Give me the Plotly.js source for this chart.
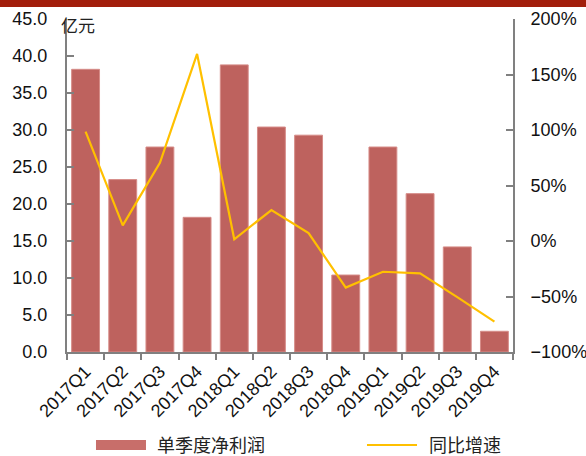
<!DOCTYPE html>
<html>
<head>
<meta charset="utf-8">
<script src="https://cdn.plot.ly/plotly-3.0.1.min.js"></script>
<style>html,body{margin:0;padding:0;background:#fff;}#chart{width:586px;height:456px;}</style>
</head>
<body>
<div id="chart"></div>
<script>
const categories = ['2017Q1','2017Q2','2017Q3','2017Q4','2018Q1','2018Q2','2018Q3','2018Q4','2019Q1','2019Q2','2019Q3','2019Q4'];
const netProfit = [38.2, 23.3, 27.7, 18.2, 38.8, 30.4, 29.3, 10.4, 27.7, 21.4, 14.2, 2.8];
const yoyGrowth = [98.5, 14.1, 70.5, 168.5, 1.5, 27.9, 7.2, -42.0, -27.7, -29.1, -50.5, -72.7];
const barName = '单季度净利润';
const lineName = '同比增速';
const unitLabel = '亿元';

const barColor = 'rgb(190,98,94)';
const lineColor = '#FFC000';
const tickFont = {family: '"Liberation Sans", Arial, sans-serif', size: 18, color: '#111'};
const cjkFont = {family: '"Noto Sans CJK SC", sans-serif', size: 18, color: '#222'};

const traces = [
  {
    type: 'bar', x: categories, y: netProfit, name: barName,
    marker: {color: barColor, line: {color: 'rgb(214,140,136)', width: 1}},
    yaxis: 'y'
  },
  {
    type: 'scatter', mode: 'lines', x: categories, y: yoyGrowth, name: lineName,
    line: {color: lineColor, width: 2.2},
    yaxis: 'y2'
  }
];

const layout = {
  width: 586, height: 456,
  margin: {l: 67, r: 73, t: 19, b: 104, autoexpand: false},
  paper_bgcolor: '#fff', plot_bgcolor: '#fff',
  bargap: 0.25,
  showlegend: false,
  xaxis: {
    type: 'category', tickangle: -45, tickfont: tickFont, automargin: false,
    showline: true, linecolor: '#808080', linewidth: 2,
    ticks: 'outside', tickson: 'boundaries', ticklen: 6, tickcolor: '#808080', tickwidth: 2,
    showgrid: false, zeroline: false
  },
  yaxis: {
    range: [0, 45], dtick: 5, tickformat: '.1f', tickfont: tickFont, automargin: false,
    showline: true, linecolor: '#808080', linewidth: 2,
    ticks: 'inside', ticklen: 7, tickcolor: '#808080', tickwidth: 2,
    ticklabelstandoff: 14,
    showgrid: false, zeroline: false
  },
  yaxis2: {
    overlaying: 'y', side: 'right', range: [-100, 200], dtick: 50, ticksuffix: '%',
    tickfont: tickFont, automargin: false,
    showline: true, linecolor: '#808080', linewidth: 2,
    ticks: 'inside', ticklen: 7, tickcolor: '#808080', tickwidth: 2,
    ticklabelstandoff: 12,
    showgrid: false, zeroline: false
  },
  annotations: [
    {text: unitLabel, xref: 'paper', yref: 'paper', x: -0.018, y: 0.982, xanchor: 'left', yanchor: 'middle',
     showarrow: false, font: {family: '"Noto Sans CJK SC", sans-serif', size: 17, color: '#222'}},
    {text: barName, xref: 'paper', yref: 'paper', x: 0.1996, y: -0.2748, xanchor: 'left', yanchor: 'middle',
     showarrow: false, borderpad: 0, font: cjkFont},
    {text: lineName, xref: 'paper', yref: 'paper', x: 0.8094, y: -0.2748, xanchor: 'left', yanchor: 'middle',
     showarrow: false, borderpad: 0, font: cjkFont}
  ],
  shapes: [
    {type: 'rect', xref: 'paper', yref: 'paper', x0: -0.16, x1: 1.17, y0: 1.036, y1: 1.07,
     fillcolor: '#A21E0B', line: {width: 0}, layer: 'above'},
    {type: 'rect', xref: 'paper', yref: 'paper', x0: 0.0650, x1: 0.1771, y0: -0.2943, y1: -0.2643,
     fillcolor: 'rgb(200,110,106)', line: {width: 0}},
    {type: 'line', xref: 'paper', yref: 'paper', x0: 0.6726, x1: 0.7848, y0: -0.2793, y1: -0.2793,
     line: {color: lineColor, width: 2.2}}
  ]
};

Plotly.newPlot('chart', traces, layout, {displayModeBar: false, staticPlot: true});
</script>
</body>
</html>
